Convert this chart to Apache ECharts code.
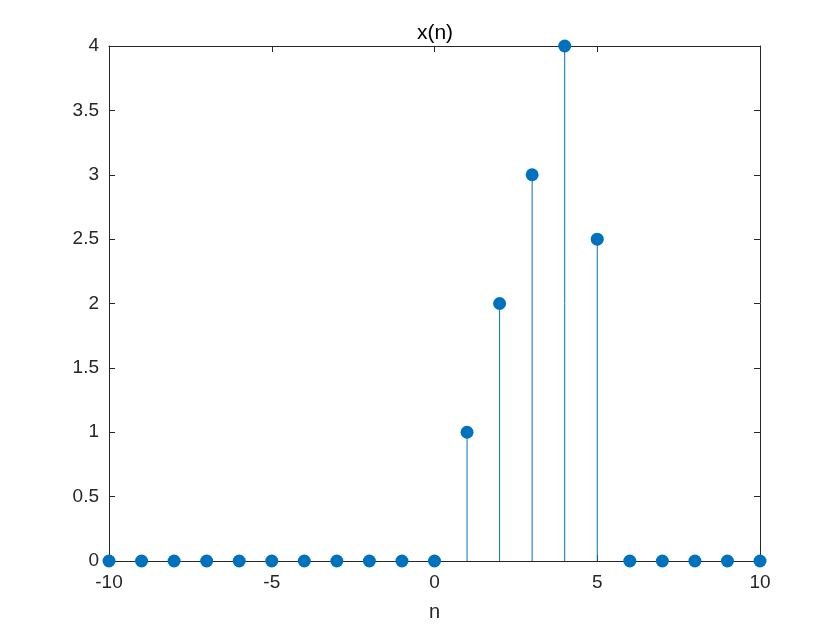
<!DOCTYPE html>
<html><head><meta charset="utf-8">
<script src="https://cdn.jsdelivr.net/npm/echarts@6/dist/echarts.min.js"></script>
<style>html,body{margin:0;padding:0;background:#fff}#c{width:840px;height:630px}</style>
</head><body><div id="c"></div>
<script>
var nValues = [-10,-9,-8,-7,-6,-5,-4,-3,-2,-1,0,1,2,3,4,5,6,7,8,9,10];
var xValues = [0,0,0,0,0,0,0,0,0,0,0,1,2,3,4,2.5,0,0,0,0,0];
var titleText = 'x(n)';
var xLabelText = 'n';

var data = nValues.map(function(n,i){return [n, xValues[i]];});
var col = '#0072BD';
var font = 'Helvetica, Arial, "Liberation Sans", sans-serif';
var chart = echarts.init(document.getElementById('c'));
var axisCommon = {
  axisLine:{show:true,onZero:false,lineStyle:{color:'#262626',width:1}},
  axisTick:{show:true,inside:true,length:6,lineStyle:{color:'#262626',width:1}},
  splitLine:{show:false}
};
chart.setOption({
  animation:false,
  title:{text:titleText,left:430,top:18,textAlign:'center',textStyle:{fontFamily:font,fontSize:21,fontWeight:'normal',color:'#000'}},
  grid:{left:109,right:80,top:46,bottom:69,containLabel:false},
  xAxis:[
    Object.assign({type:'value',min:-10,max:10,interval:5,position:'bottom',name:xLabelText,nameLocation:'middle',nameGap:41,
      nameTextStyle:{fontFamily:font,fontSize:20,color:'#262626'},
      axisLabel:{fontFamily:font,fontSize:19,color:'#262626',margin:12}},axisCommon),
    Object.assign({type:'value',min:-10,max:10,interval:5,position:'top',axisLabel:{show:false}},axisCommon)
  ],
  yAxis:[
    Object.assign({type:'value',min:0,max:4,interval:0.5,position:'left',
      axisLabel:{fontFamily:font,fontSize:19,color:'#262626',margin:10}},axisCommon),
    Object.assign({type:'value',min:0,max:4,interval:0.5,position:'right',axisLabel:{show:false}},axisCommon)
  ],
  series:[{
    type:'custom',
    xAxisIndex:0,yAxisIndex:0,
    data:data,
    clip:false,
    renderItem:function(params,api){
      var p = api.coord([api.value(0),api.value(1)]);
      var b = api.coord([api.value(0),0]);
      return {type:'group',children:[
        {type:'line',shape:{x1:b[0],y1:b[1],x2:p[0],y2:p[1]},style:{stroke:col,lineWidth:1}},
        {type:'circle',shape:{cx:p[0],cy:p[1],r:6.5},style:{fill:col}}
      ]};
    }
  }]
});
</script></body></html>
